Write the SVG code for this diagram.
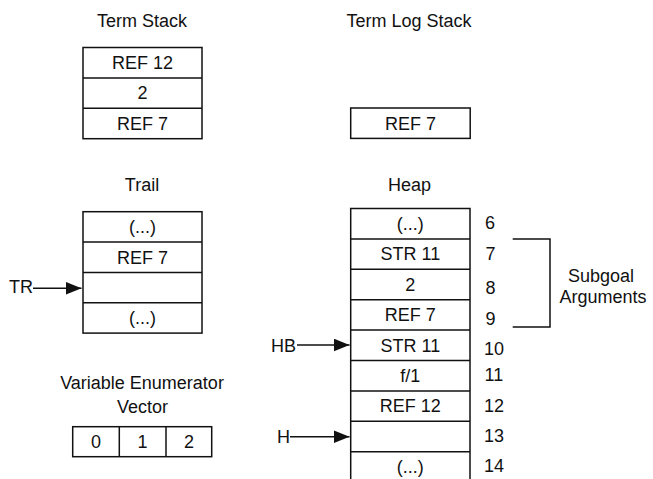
<svg xmlns="http://www.w3.org/2000/svg" width="653" height="479" viewBox="0 0 653 479">
<style>
text{font-family:"Liberation Sans",Arial,Helvetica,sans-serif;font-size:18px;fill:#111}
.c{text-anchor:middle}
.box{fill:#fff;stroke:#111;stroke-width:1.5}
.ln{stroke:#111;stroke-width:1.5;fill:none}
</style>
<defs>
<marker id="ah" markerUnits="userSpaceOnUse" markerWidth="17" markerHeight="13" refX="16" refY="6.5" orient="auto">
<path d="M0,0 L16,6.5 L0,13 Z" fill="#111"/>
</marker>
</defs>
<rect width="653" height="479" fill="#fff"/>

<g id="term-stack">
<text class="c" x="142" y="27">Term Stack</text>
<rect class="box" x="83" y="47.5" width="119" height="91.2"/>
<line class="ln" x1="83" y1="77.9" x2="202" y2="77.9"/>
<line class="ln" x1="83" y1="108.3" x2="202" y2="108.3"/>
<text class="c" x="142.5" y="69">REF 12</text>
<text class="c" x="142.5" y="99.4">2</text>
<text class="c" x="142.5" y="129.8">REF 7</text>
</g>

<g id="term-log-stack">
<text class="c" x="409" y="27">Term Log Stack</text>
<rect class="box" x="350.7" y="108" width="119.5" height="30.4"/>
<text class="c" x="410.5" y="129.6">REF 7</text>
</g>

<g id="trail">
<text class="c" x="142" y="190.5">Trail</text>
<rect class="box" x="83" y="211.7" width="119" height="121.4"/>
<line class="ln" x1="83" y1="242" x2="202" y2="242"/>
<line class="ln" x1="83" y1="272.4" x2="202" y2="272.4"/>
<line class="ln" x1="83" y1="302.8" x2="202" y2="302.8"/>
<text class="c" x="142.5" y="233.2">(...)</text>
<text class="c" x="142.5" y="263.6">REF 7</text>
<text class="c" x="142.5" y="324.4">(...)</text>
</g>

<g id="heap">
<text class="c" x="409.5" y="190.5">Heap</text>
<rect class="box" x="350.7" y="208.5" width="119.3" height="290"/>
<line class="ln" x1="350.7" y1="238.9" x2="470" y2="238.9"/>
<line class="ln" x1="350.7" y1="269.3" x2="470" y2="269.3"/>
<line class="ln" x1="350.7" y1="299.7" x2="470" y2="299.7"/>
<line class="ln" x1="350.7" y1="330.1" x2="470" y2="330.1"/>
<line class="ln" x1="350.7" y1="360.5" x2="470" y2="360.5"/>
<line class="ln" x1="350.7" y1="390.9" x2="470" y2="390.9"/>
<line class="ln" x1="350.7" y1="421.3" x2="470" y2="421.3"/>
<line class="ln" x1="350.7" y1="451.7" x2="470" y2="451.7"/>
<text class="c" x="410.3" y="230">(...)</text>
<text class="c" x="410.3" y="260.4">STR 11</text>
<text class="c" x="410.3" y="290.8">2</text>
<text class="c" x="410.3" y="321.2">REF 7</text>
<text class="c" x="410.3" y="351.6">STR 11</text>
<text class="c" x="410.3" y="382">f/1</text>
<text class="c" x="410.3" y="412.4">REF 12</text>
<text class="c" x="410.3" y="473.2">(...)</text>
<text x="485" y="229.3">6</text>
<text x="485.5" y="260">7</text>
<text x="485.5" y="294.3">8</text>
<text x="485.5" y="325">9</text>
<text x="484" y="355">10</text>
<text x="484.5" y="380.5">11</text>
<text x="484" y="412">12</text>
<text x="484" y="441.7">13</text>
<text x="484" y="471.7">14</text>
</g>

<g id="subgoal-arguments">
<path class="ln" d="M512.7,239 H550 V327 H512.7"/>
<text class="c" x="601" y="281.5">Subgoal</text>
<text class="c" x="603" y="303">Arguments</text>
</g>

<g id="variable-enumerator-vector">
<text class="c" x="142" y="389.3">Variable Enumerator</text>
<text class="c" x="142.5" y="413.3">Vector</text>
<rect class="box" x="72.7" y="426.7" width="139" height="30"/>
<line class="ln" x1="119.3" y1="426.7" x2="119.3" y2="456.7"/>
<line class="ln" x1="166" y1="426.7" x2="166" y2="456.7"/>
<text class="c" x="96" y="448.2">0</text>
<text class="c" x="142.6" y="448.2">1</text>
<text class="c" x="189" y="448.2">2</text>
</g>

<g id="pointer-labels">
<text x="9" y="292.6">TR</text>
<text x="271" y="351.6">HB</text>
<text x="277" y="443">H</text>
</g>

<g id="connectors">
<line class="ln" x1="33" y1="288.3" x2="81.5" y2="288.3" marker-end="url(#ah)"/>
<line class="ln" x1="297" y1="345" x2="349.5" y2="345" marker-end="url(#ah)"/>
<line class="ln" x1="290" y1="436.7" x2="349.5" y2="436.7" marker-end="url(#ah)"/>
</g>
</svg>
